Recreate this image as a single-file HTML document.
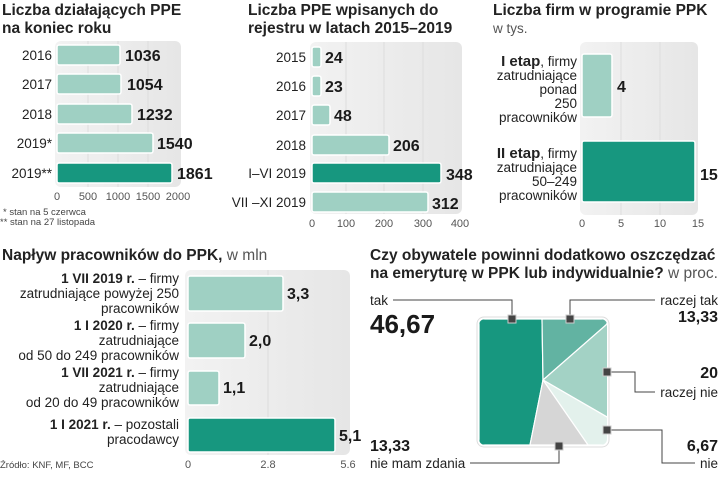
<!DOCTYPE html>
<html><head><meta charset="utf-8"><style>
body{margin:0;background:#fff;}
svg{display:block;font-family:"Liberation Sans",sans-serif;}
.t{font-weight:bold;font-size:15.5px;fill:#222;}
.l{font-size:13.5px;fill:#222;}
.v{font-weight:bold;font-size:16px;fill:#1a1a1a;}
.k{font-size:11px;fill:#555;}
.f{font-size:9.5px;fill:#444;}
.lb{fill:#9fd0c3;stroke:#fff;stroke-width:1.5;}
.db{fill:#17977f;stroke:#fff;stroke-width:1.5;}
</style></head><body>
<svg width="720" height="482" viewBox="0 0 720 482">
<defs>
<linearGradient id="g" x1="0" x2="1"><stop offset="0" stop-color="#f2f2f2"/><stop offset="1" stop-color="#e6e6e6"/></linearGradient>
</defs>
<!-- Panel 1 -->
<text class="t" x="2" y="15">Liczba działających PPE</text>
<text class="t" x="2" y="33">na koniec roku</text>
<rect x="55" y="41" width="126" height="146" rx="6" fill="url(#g)"/>
<line x1="88" y1="41" x2="88" y2="187" stroke="#ddd"/><line x1="118" y1="41" x2="118" y2="187" stroke="#ddd"/><line x1="148" y1="41" x2="148" y2="187" stroke="#ddd"/>
<rect class="lb" x="57" y="45" width="63" height="20" rx="2"/>
<rect class="lb" x="57" y="74" width="64" height="20" rx="2"/>
<rect class="lb" x="57" y="104" width="75" height="20" rx="2"/>
<rect class="lb" x="57" y="133" width="96" height="20" rx="2"/>
<rect class="db" x="57" y="163" width="115" height="20" rx="2"/>
<g class="l" text-anchor="end"><text x="52" y="60">2016</text><text x="52" y="89">2017</text><text x="52" y="119">2018</text><text x="52" y="148">2019*</text><text x="52" y="178">2019**</text></g>
<g class="v"><text x="125" y="61">1036</text><text x="127" y="90">1054</text><text x="137" y="120">1232</text><text x="157" y="149">1540</text><text x="177" y="179">1861</text></g>
<g class="k" text-anchor="middle"><text x="57" y="200">0</text><text x="88" y="200">500</text><text x="118" y="200">1000</text><text x="148" y="200">1500</text><text x="178" y="200">2000</text></g>
<text class="f" x="3" y="215">* stan na 5 czerwca</text>
<text class="f" x="0" y="225">** stan na 27 listopada</text>
<!-- Panel 2 -->
<text class="t" x="248" y="15">Liczba PPE wpisanych do</text>
<text class="t" x="248" y="33">rejestru w latach 2015–2019</text>
<rect x="310" y="42" width="152" height="172" rx="6" fill="url(#g)"/>
<line x1="346" y1="42" x2="346" y2="214" stroke="#ddd"/><line x1="384" y1="42" x2="384" y2="214" stroke="#ddd"/><line x1="423" y1="42" x2="423" y2="214" stroke="#ddd"/>
<rect class="lb" x="312" y="47" width="9" height="20" rx="2"/>
<rect class="lb" x="312" y="76" width="9" height="20" rx="2"/>
<rect class="lb" x="312" y="105" width="18" height="20" rx="2"/>
<rect class="lb" x="312" y="135" width="77" height="20" rx="2"/>
<rect class="db" x="312" y="163" width="129" height="20" rx="2"/>
<rect class="lb" x="312" y="192" width="116" height="20" rx="2"/>
<g class="l" text-anchor="end"><text x="306" y="62">2015</text><text x="306" y="91">2016</text><text x="306" y="120">2017</text><text x="306" y="150">2018</text><text x="306" y="178">I–VI 2019</text><text x="306" y="207">VII –XI 2019</text></g>
<g class="v"><text x="325" y="63">24</text><text x="325" y="92">23</text><text x="334" y="121">48</text><text x="393" y="151">206</text><text x="446" y="180">348</text><text x="432" y="209">312</text></g>
<g class="k" text-anchor="middle"><text x="312" y="227">0</text><text x="346" y="227">100</text><text x="384" y="227">200</text><text x="423" y="227">300</text><text x="460" y="227">400</text></g>
<!-- Panel 3 -->
<text class="t" x="493" y="15">Liczba firm w programie PPK</text>
<text class="l" x="493" y="33" style="fill:#555">w tys.</text>
<rect x="580" y="42" width="118" height="173" rx="6" fill="url(#g)"/>
<line x1="621" y1="42" x2="621" y2="215" stroke="#ddd"/><line x1="660" y1="42" x2="660" y2="215" stroke="#ddd"/>
<rect class="lb" x="582" y="54" width="30" height="63" rx="2"/>
<rect class="db" x="582" y="141" width="113" height="61" rx="2"/>
<g class="l" text-anchor="end">
<text x="577" y="66"><tspan font-weight="bold" font-size="15">I etap</tspan>, firmy</text><text x="577" y="80">zatrudniające</text><text x="577" y="94">ponad</text><text x="577" y="108">250</text><text x="577" y="122">pracowników</text>
<text x="577" y="158"><tspan font-weight="bold" font-size="15">II etap</tspan>, firmy</text><text x="577" y="172">zatrudniające</text><text x="577" y="186">50–249</text><text x="577" y="200">pracowników</text></g>
<g class="v"><text x="617" y="92">4</text><text x="700" y="180">15</text></g>
<g class="k" text-anchor="middle"><text x="582" y="227">0</text><text x="621" y="227">5</text><text x="660" y="227">10</text><text x="698" y="227">15</text></g>
<!-- Panel 4 -->
<text class="t" x="2" y="260">Napływ pracowników do PPK,<tspan font-weight="normal" fill="#555"> w mln</tspan></text>
<rect x="185" y="270" width="165" height="185" rx="6" fill="url(#g)"/>
<line x1="268" y1="270" x2="268" y2="455" stroke="#ddd"/>
<rect class="lb" x="188" y="276" width="95" height="35" rx="2"/>
<rect class="lb" x="188" y="323" width="57" height="35" rx="2"/>
<rect class="lb" x="188" y="371" width="31" height="34" rx="2"/>
<rect class="db" x="188" y="418" width="147" height="34" rx="2"/>
<g class="l" text-anchor="end">
<text x="179" y="283"><tspan font-weight="bold">1 VII 2019 r.</tspan> – firmy</text><text x="179" y="298">zatrudniające powyżej 250</text><text x="179" y="313">pracowników</text>
<text x="179" y="330"><tspan font-weight="bold">1 I 2020 r.</tspan> – firmy</text><text x="179" y="345">zatrudniające</text><text x="179" y="360">od 50 do 249 pracowników</text>
<text x="179" y="377"><tspan font-weight="bold">1 VII 2021 r.</tspan> – firmy</text><text x="179" y="392">zatrudniające</text><text x="179" y="407">od 20 do 49 pracowników</text>
<text x="179" y="429"><tspan font-weight="bold">1 I 2021 r.</tspan> – pozostali</text><text x="179" y="444">pracodawcy</text></g>
<g class="v"><text x="287" y="299">3,3</text><text x="249" y="346">2,0</text><text x="223" y="393">1,1</text><text x="339" y="441">5,1</text></g>
<text class="f" x="0" y="468">Źródło: KNF, MF, BCC</text>
<g class="k" text-anchor="middle"><text x="188" y="468">0</text><text x="268" y="468">2.8</text><text x="348" y="468">5.6</text></g>
<!-- Panel 5 -->
<text class="t" x="370" y="260">Czy obywatele powinni dodatkowo oszczędzać</text>
<text class="t" x="370" y="278">na emeryturę w PPK lub indywidualnie?<tspan font-weight="normal" fill="#555"> w proc.</tspan></text>
<rect x="477" y="317" width="132" height="130" rx="7" fill="#fff" stroke="#ddd"/>
<clipPath id="c"><rect x="479" y="319" width="128" height="126" rx="6"/></clipPath>
<g clip-path="url(#c)" stroke="#fff" stroke-width="1.2">
<polygon points="479,319 542,319 543,380 530,445 479,445" fill="#17977f"/>
<polygon points="542,319 610,319 606,325 543,380" fill="#62b3a2"/>
<polygon points="606,325 610,319 610,417 607,417 543,380" fill="#a3d2c5"/>
<polygon points="607,417 610,417 610,445 588,445 543,380" fill="#e3f1ec"/>
<polygon points="588,445 530,445 543,380" fill="#d6d6d6"/>
</g>
<g fill="none" stroke="#444" stroke-width="1">
<polyline points="393,300 512,300 512,319"/>
<polyline points="570,319 570,300 655,300"/>
<polyline points="607,372 635,372 635,392 655,392"/>
<polyline points="607,430 662,430 662,463 695,463"/>
<polyline points="470,463 559,463 559,446"/>
</g>
<g fill="#444" stroke="#ccc" stroke-width="1">
<rect x="508" y="315" width="8" height="8"/><rect x="566" y="315" width="8" height="8"/><rect x="603" y="368" width="8" height="8"/><rect x="603" y="426" width="8" height="8"/><rect x="555" y="442" width="8" height="8"/>
</g>
<text class="l" x="370" y="305">tak</text>
<text x="370" y="333" font-weight="bold" font-size="26" fill="#1a1a1a">46,67</text>
<g class="l" text-anchor="end"><text x="718" y="305">raczej tak</text><text x="718" y="397">raczej nie</text><text x="718" y="468">nie</text></g>
<g class="v" text-anchor="end"><text x="718" y="322">13,33</text><text x="718" y="378">20</text><text x="718" y="451">6,67</text></g>
<text class="v" x="370" y="451">13,33</text>
<text class="l" x="370" y="468">nie mam zdania</text>
</svg>
</body></html>
